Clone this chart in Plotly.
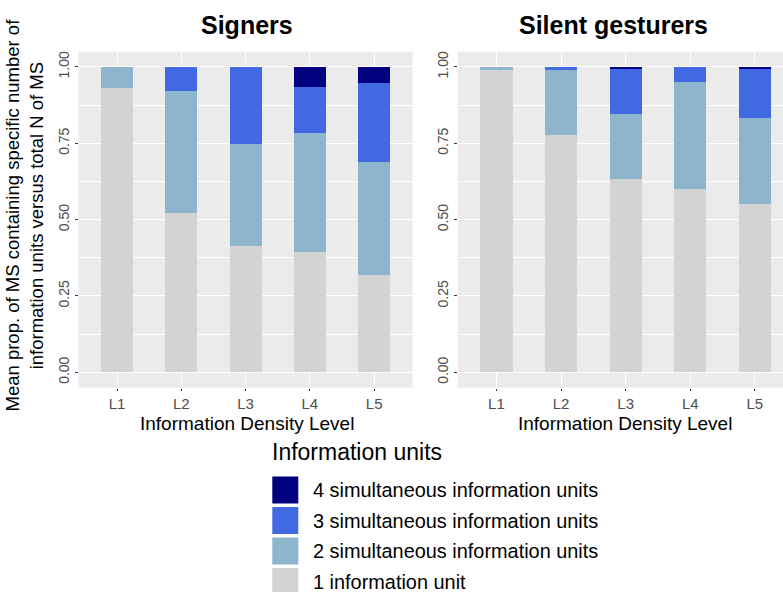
import plotly.graph_objects as go

# Information density levels (x categories)
levels = ["L1", "L2", "L3", "L4", "L5"]

# Mean proportions per level, Signers panel
signers_one = [0.930, 0.523, 0.414, 0.393, 0.318]
signers_two = [0.070, 0.399, 0.335, 0.391, 0.372]
signers_three = [0.000, 0.078, 0.251, 0.151, 0.257]
signers_four = [0.000, 0.000, 0.000, 0.065, 0.053]

# Mean proportions per level, Silent gesturers panel
gesturers_one = [0.990, 0.778, 0.634, 0.600, 0.552]
gesturers_two = [0.010, 0.213, 0.213, 0.352, 0.282]
gesturers_three = [0.000, 0.009, 0.148, 0.048, 0.161]
gesturers_four = [0.000, 0.000, 0.005, 0.000, 0.005]

unit_names = [
    "1 information unit",
    "2 simultaneous information units",
    "3 simultaneous information units",
    "4 simultaneous information units",
]
unit_colors = ["#D3D3D3", "#8DB6CD", "#4169E1", "#000080"]

y_ticks = [0, 0.25, 0.5, 0.75, 1.0]
y_tick_text = ["0.00", "0.25", "0.50", "0.75", "1.00"]

W, H = 783, 592
FONT = "Liberation Sans, Arial, sans-serif"


def px(x):
    return x / W


def py(y):
    return 1 - y / H


fig = go.Figure()

panels = [
    ("x", "y", [signers_one, signers_two, signers_three, signers_four]),
    ("x2", "y2", [gesturers_one, gesturers_two, gesturers_three, gesturers_four]),
]
for xa, ya, series in panels:
    for name, color, vals in zip(unit_names, unit_colors, series):
        fig.add_trace(go.Bar(
            x=levels, y=vals, name=name, xaxis=xa, yaxis=ya,
            marker=dict(color=color, line=dict(width=0)),
            width=0.5, showlegend=False,
        ))

y_top, y_bottom = 51.7, 387.6
common_x = dict(
    type="category", showgrid=True, gridcolor="white", gridwidth=1.1,
    ticks="outside", ticklen=2, tickcolor="#333333", tickwidth=1,
    tickfont=dict(family=FONT, size=15, color="#4D4D4D"),
    zeroline=False, showline=False,
)
common_y = dict(
    range=[-0.05, 1.05], tickvals=y_ticks, ticktext=y_tick_text,
    tickangle=-90, showgrid=True, gridcolor="white", gridwidth=1.1,
    minor=dict(tickvals=[0.125, 0.375, 0.625, 0.875], showgrid=True,
               gridcolor="white", gridwidth=0.5, ticks=""),
    ticks="outside", ticklen=3, tickcolor="#333333", tickwidth=1,
    tickfont=dict(family=FONT, size=14, color="#4D4D4D"),
    zeroline=False, showline=False,
    domain=[py(y_bottom), py(y_top)],
)

left_x0, left_x1 = 78.5, 412.7
right_x0 = 457.7
step = 64.6
right_hi = -0.6 + (W - right_x0) / step

fig.update_layout(
    width=W, height=H,
    margin=dict(l=0, r=0, t=0, b=0),
    paper_bgcolor="white", plot_bgcolor="#EBEBEB",
    barmode="stack", bargap=0.5,
    xaxis=dict(common_x, domain=[px(left_x0), px(left_x1)], range=[-0.6, 4.6], anchor="y"),
    yaxis=dict(common_y, anchor="x"),
    xaxis2=dict(common_x, domain=[px(right_x0), 1.0], range=[-0.6, right_hi], anchor="y2"),
    yaxis2=dict(common_y, anchor="x2"),
    font=dict(family=FONT),
)

annotations = []
shapes = []

# Panel titles
for text, cx in [("Signers", 246.7), ("Silent gesturers", 613)]:
    annotations.append(dict(
        text=f"<b>{text}</b>", x=px(cx), y=py(25), xref="paper", yref="paper",
        showarrow=False, xanchor="center", yanchor="middle",
        font=dict(family=FONT, size=25, color="black"),
    ))

# X axis titles
for cx in [246.5, 624.5]:
    annotations.append(dict(
        text="Information Density Level", x=px(cx), y=py(423.5),
        xref="paper", yref="paper", showarrow=False,
        xanchor="center", yanchor="middle",
        font=dict(family=FONT, size=19, color="black"),
    ))

# Y axis title (two lines)
annotations.append(dict(
    text="Mean prop. of MS containing specific number of<br>information units versus total N of MS",
    x=px(23.5), y=py(215), xref="paper", yref="paper", showarrow=False,
    xanchor="center", yanchor="middle", textangle=-90,
    font=dict(family=FONT, size=18.5, color="black"),
))

# Legend
annotations.append(dict(
    text="Information units", x=px(270), y=py(452), xref="paper", yref="paper",
    showarrow=False, xanchor="left", yanchor="middle",
    font=dict(family=FONT, size=23, color="black"),
))
item_centers = [490, 520.5, 551, 581.5]
for i, (name, color) in enumerate(zip(reversed(unit_names), reversed(unit_colors))):
    cy = item_centers[i]
    shapes.append(dict(
        type="rect", xref="paper", yref="paper",
        x0=px(272.3), x1=px(298.3), y0=py(cy + 13.5), y1=py(cy - 13.5),
        fillcolor=color, line=dict(width=0),
    ))
    annotations.append(dict(
        text=name, x=px(311), y=py(cy), xref="paper", yref="paper",
        showarrow=False, xanchor="left", yanchor="middle",
        font=dict(family=FONT, size=19.9, color="black"),
    ))

fig.update_layout(annotations=annotations, shapes=shapes)

fig.write_html("out.html")
